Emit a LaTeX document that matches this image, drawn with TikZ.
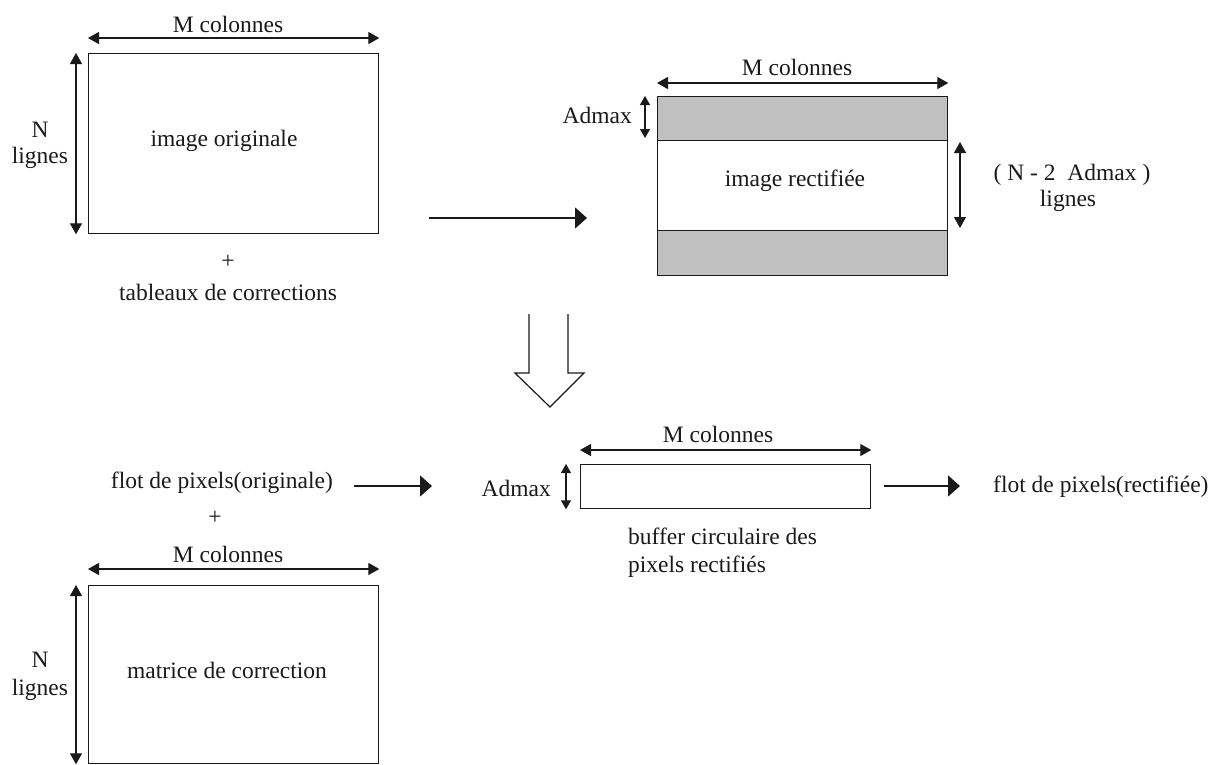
\documentclass[tikz,border=0pt]{standalone}
\usepackage{fontspec}
\setmainfont{Liberation Serif}
\usetikzlibrary{arrows.meta}

\definecolor{ink}{HTML}{1A1A1A}
\definecolor{band}{HTML}{C0C0C0}

\tikzset{
  box/.style={draw=ink, line width=1.3pt, inner sep=0pt, anchor=north west},
  lbl/.style={inner sep=0pt, text=ink, font=\fontsize{23.5}{26}\selectfont},
  dimarrow/.style={draw=ink, line width=1.3pt,
    {Triangle[length=11pt,width=12pt]}-{Triangle[length=11pt,width=12pt]}},
  smallarrow/.style={draw=ink, line width=1.3pt,
    {Triangle[length=9pt,width=10pt]}-{Triangle[length=9pt,width=10pt]}},
  flow/.style={draw=ink, line width=1.3pt, -{Triangle[length=12pt,width=21pt]}},
  hollow/.style={draw=ink, line width=1.2pt, fill=white, line join=miter},
}

\begin{document}
\begin{tikzpicture}[x=1pt, y=-1pt]
\useasboundingbox[fill=white] (0,0) rectangle (1223,764);

% ---- original image ----
\node[box, minimum width=290pt, minimum height=180pt] (orig) at (88,53) {};
\node[lbl, anchor=base] (origtxt) at (224,146) {image originale};
\node[lbl, anchor=base] (origM) at (228,32) {M colonnes};
\draw[dimarrow] ([yshift=15pt]orig.north west) -- ([yshift=15pt]orig.north east);
\draw[dimarrow] ([xshift=-12pt]orig.north west) -- ([xshift=-12pt]orig.south west);
\node[lbl, anchor=base] (origN) at (40,137) {N};
\node[lbl, anchor=base] (origL) at (40,163) {lignes};
\node[lbl] (plus1) at (228,262) {+};
\node[lbl, anchor=base] (tabl) at (228,300) {tableaux de corrections};

% ---- rectified image ----
\node[box, fill=band, minimum width=290pt, minimum height=179pt] (rect) at (657,96) {};
\node[box, fill=white, minimum width=290pt, minimum height=90pt] (rectmid) at (657,140) {};
\node[lbl, anchor=base] (recttxt) at (795,186) {image rectifiée};
\node[lbl, anchor=base] (rectM) at (797,75) {M colonnes};
\draw[dimarrow] ([yshift=13pt]rect.north west) -- ([yshift=13pt]rect.north east);
\coordinate (adA) at (645,96);
\coordinate (adB) at (645,138);
\draw[smallarrow] (adA) -- (adB);
\node[lbl, anchor=base east] (rectAd) at (632,123) {Admax};
\coordinate (nlA) at (960,142);
\coordinate (nlB) at (960,228);
\draw[dimarrow] (nlA) -- (nlB);
\node[lbl, anchor=base] (nlTxt) at (1072,180) {( N - 2\ \ Admax )};
\node[lbl, anchor=base] (nlL) at (1068,206) {lignes};

% ---- arrow between the two images ----
\coordinate (mA) at (429,218);
\coordinate (mB) at (587,218);
\draw[flow] (mA) -- (mB);

% ---- hollow down arrow ----
\draw[hollow] (529,314) -- (529,373) -- (515,373) -- (550,407) -- (584,373)
  -- (568,373) -- (568,314);

% ---- circular buffer ----
\node[box, minimum width=290pt, minimum height=44pt] (buf) at (580,464) {};
\node[lbl, anchor=base] (bufM) at (718,442) {M colonnes};
\draw[dimarrow] ([yshift=14pt]buf.north west) -- ([yshift=14pt]buf.north east);
\draw[smallarrow] ([xshift=-14pt]buf.north west) -- ([xshift=-14pt]buf.south west);
\node[lbl, anchor=base east] (bufAd) at (551,496) {Admax};
\node[lbl, anchor=base west] (buf1) at (628,544) {buffer circulaire des};
\node[lbl, anchor=base west] (buf2) at (628,572) {pixels rectifiés};

\node[lbl, anchor=base east] (inflow) at (333,488) {flot de pixels(originale)};
\coordinate (inA) at (354,486);
\coordinate (inB) at (432,486);
\draw[flow] (inA) -- (inB);
\node[lbl] (plus2) at (215,518) {+};

\node[lbl, anchor=base west] (outflow) at (993,492) {flot de pixels(rectifiée)};
\coordinate (outA) at (884,486);
\draw[flow] (outA) -- ([xshift=-33pt]outflow.west |- outA);

% ---- correction matrix ----
\node[box, minimum width=290pt, minimum height=178pt] (mat) at (88,585) {};
\node[lbl, anchor=base] (mattxt) at (227,678) {matrice de correction};
\node[lbl, anchor=base] (matM) at (228,562) {M colonnes};
\draw[dimarrow] ([yshift=16pt]mat.north west) -- ([yshift=16pt]mat.north east);
\draw[dimarrow] ([xshift=-12pt]mat.north west) -- ([xshift=-12pt]mat.south west);
\node[lbl, anchor=base] (matN) at (40,667) {N};
\node[lbl, anchor=base] (matL) at (40,695) {lignes};
\end{tikzpicture}
\end{document}
